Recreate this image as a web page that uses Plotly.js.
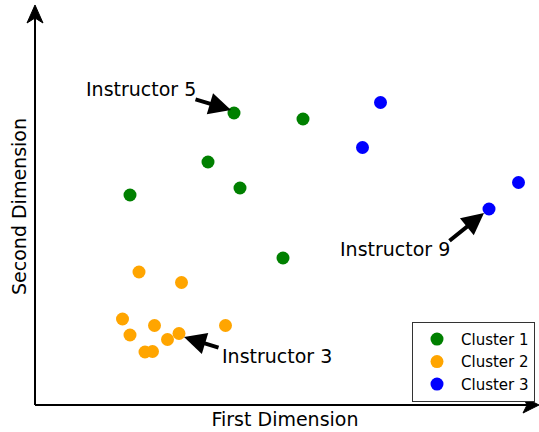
<!DOCTYPE html>
<html>
<head>
<meta charset="utf-8">
<script src="https://cdn.plot.ly/plotly-3.0.1.min.js"></script>
<style>html,body{margin:0;padding:0;background:#fff;}#chart{width:539px;height:432px;}</style>
</head>
<body>
<div id="chart"></div>
<script>
// Data (arbitrary units)
const seriesNames = ["Cluster 1", "Cluster 2", "Cluster 3"];
const seriesColors = ["#008000", "#FFA500", "#0000FF"];
const cluster1X = [3.98, 5.36, 3.46, 4.10, 1.90, 4.96];
const cluster1Y = [5.84, 5.72, 4.86, 4.34, 4.20, 2.94];
const cluster2X = [2.08, 2.93, 1.75, 2.39, 3.81, 1.90, 2.88, 2.65, 2.20, 2.35];
const cluster2Y = [2.66, 2.45, 1.72, 1.59, 1.59, 1.40, 1.43, 1.31, 1.06, 1.07];
const cluster3X = [6.91, 6.55, 9.67, 9.08];
const cluster3Y = [6.05, 5.15, 4.45, 3.92];
const labelTexts = ["Instructor 5", "Instructor 3", "Instructor 9"];
const axisTitles = ["First Dimension", "Second Dimension"];

const xs = [cluster1X, cluster2X, cluster3X];
const ys = [cluster1Y, cluster2Y, cluster3Y];
const traces = seriesNames.map((n, i) => ({
  type: "scatter", mode: "markers", name: n,
  x: xs[i], y: ys[i],
  marker: {color: seriesColors[i], size: 13, line: {width: 0}},
  cliponaxis: false
}));

const font = {family: "DejaVu Sans, sans-serif", color: "#000"};
function textAnn(t, x, y) {
  return {text: t, x: x, y: y, xref: "x", yref: "y", xanchor: "left", yanchor: "middle",
    showarrow: false, font: Object.assign({size: 19}, font)};
}
function arrowAnn(tx, ty, hx, hy) {
  return {text: "", x: hx, y: hy, ax: tx, ay: ty, xref: "x", yref: "y", axref: "x", ayref: "y",
    showarrow: true, arrowhead: 2, arrowsize: 1.1, arrowwidth: 4, arrowcolor: "#000", standoff: 0, startstandoff: 0};
}

const layout = {
  width: 539, height: 432,
  margin: {l: 35, r: 4, t: 8, b: 27},
  paper_bgcolor: "#fff", plot_bgcolor: "#fff",
  font: font,
  showlegend: true,
  legend: {
    x: 1.0, y: 0.008, xanchor: "right", yanchor: "bottom",
    bgcolor: "#fff", bordercolor: "#333", borderwidth: 1,
    font: Object.assign({size: 15}, font), itemwidth: 38
  },
  xaxis: {range: [0, 10], showgrid: false, zeroline: false, showline: false, showticklabels: false, ticks: "",
    title: {text: axisTitles[0], font: Object.assign({size: 19}, font), standoff: 7}, automargin: false},
  yaxis: {range: [0, 7.94], showgrid: false, zeroline: false, showline: false, showticklabels: false, ticks: "",
    title: {text: axisTitles[1], font: Object.assign({size: 19}, font), standoff: 2}, automargin: false},
  shapes: [
    {type: "line", xref: "paper", yref: "paper", x0: 0, y0: 0, x1: 0, y1: 0.975, line: {color: "#000", width: 2}},
    {type: "line", xref: "paper", yref: "paper", x0: 0, y0: 0, x1: 0.984, y1: 0, line: {color: "#000", width: 2}},
    {type: "path", xref: "paper", yref: "paper", path: "M 0 1.0076 L -0.016 0.9622 L 0 0.9748 L 0.016 0.9622 Z", fillcolor: "#000", line: {color: "#000", width: 1}},
    {type: "path", xref: "paper", yref: "paper", path: "M 1.008 0 L 0.976 0.0202 L 0.984 0 L 0.976 -0.0202 Z", fillcolor: "#000", line: {color: "#000", width: 1}}
  ],
  annotations: [
    textAnn(labelTexts[0], 0.98, 6.32),
    arrowAnn(3.18, 6.12, 3.92, 5.90),
    textAnn(labelTexts[1], 3.70, 0.98),
    arrowAnn(3.70, 1.14, 2.98, 1.36),
    textAnn(labelTexts[2], 6.06, 3.12),
    arrowAnn(8.26, 3.26, 8.98, 3.84)
  ]
};

Plotly.newPlot("chart", traces, layout, {staticPlot: true, displayModeBar: false});
</script>
</body>
</html>
